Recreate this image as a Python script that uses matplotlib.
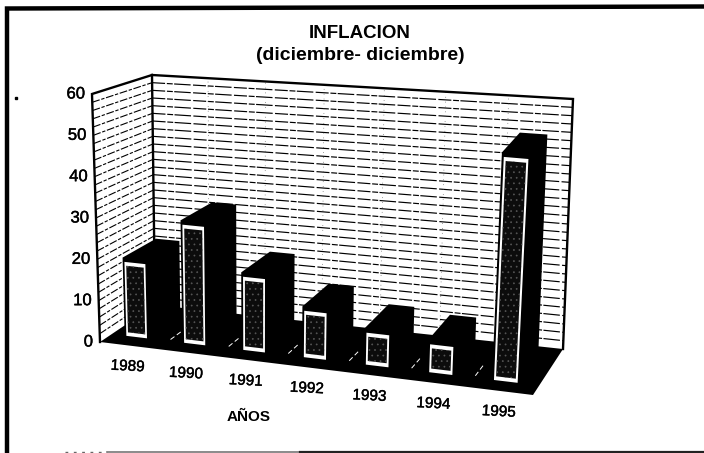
import numpy as np
import matplotlib
matplotlib.use('Agg')
import matplotlib.pyplot as plt
import matplotlib.patheffects as pe
from matplotlib.patches import Polygon

years = ['1989', '1990', '1991', '1992', '1993', '1994', '1995']
inflacion = [20, 30.5, 19.5, 13, 9.5, 8.5, 53.5]
z_ticks = [0, 10, 20, 30, 40, 50, 60]
grid_values = np.arange(0, 60, 2)

# corners of the 3d box in image pixels: (x, depth, z)
FRONT_BOT = np.array([[100, 342], [533, 395]], float)
BACK_BOT = np.array([[155, 305], [563, 349]], float)
FRONT_TOP = np.array([[92, 94], [547, 132]], float)
BACK_TOP = np.array([[152, 75], [573, 99]], float)
ZMAX = 60.0
NCAT = len(years)


def proj(x, d, z):
    # trilinear mapping from chart coords to pixels, u bent a bit for the perspective
    u = x / NCAT
    u = u * (0.92 + 0.08 * u)
    v = z / ZMAX
    fb = FRONT_BOT[0] * (1 - u) + FRONT_BOT[1] * u
    bb = BACK_BOT[0] * (1 - u) + BACK_BOT[1] * u
    ft = FRONT_TOP[0] * (1 - u) + FRONT_TOP[1] * u
    bt = BACK_TOP[0] * (1 - u) + BACK_TOP[1] * u
    bot = fb * (1 - d) + bb * d
    top = ft * (1 - d) + bt * d
    return bot * (1 - v) + top * v


def poly(ax, pts, fc, ec='none', lw=0, z=1, **kw):
    ax.add_patch(Polygon(pts, closed=True, facecolor=fc, edgecolor=ec, linewidth=lw, zorder=z, **kw))


fig = plt.figure(figsize=(7.04, 4.53), dpi=100, facecolor='white')
ax = fig.add_axes([0, 0, 1, 1])
ax.set_xlim(0, 704)
ax.set_ylim(453, 0)
ax.axis('off')
plt.rcParams['hatch.linewidth'] = 0.5
font = 'Liberation Sans'
heavy = [pe.withStroke(linewidth=0.3, foreground='black')]

# page frame
ax.plot([7, 7, 704], [453, 8.5, 6.5], color='black', lw=3.2, solid_joinstyle='miter')
ax.plot([65, 107], [452, 452], color='#666666', lw=1.0, ls=(0, (2, 4)))
ax.plot([107, 300], [452, 452], color='#777777', lw=1.2)
ax.plot([300, 704], [452, 452], color='#222222', lw=1.6)
ax.plot([15.5], [97.5], 's', color='black', ms=1.8)

# grid on the walls
dash = (0, (11, 1.5, 5, 1.2, 14, 2))
for g in grid_values[1:]:
    a, b, c = proj(0, 0, g), proj(0, 1, g), proj(NCAT, 1, g)
    ax.plot([a[0], b[0]], [a[1], b[1]], color='black', lw=0.8, ls=(0, (7, 1.5, 3, 1.5)), zorder=2)
    ax.plot([b[0], c[0]], [b[1], c[1]], color='black', lw=0.85, ls=dash, zorder=2)
for k in range(1, NCAT):
    a, b = proj(k, 1, 0), proj(k, 1, ZMAX)
    ax.plot([a[0], b[0]], [a[1], b[1]], color='#444444', lw=0.5, ls=(0, (1, 6)), zorder=2)

# floor
poly(ax, [proj(0, 0, 0), proj(NCAT, 0, 0), proj(NCAT, 1, 0), proj(0, 1, 0)], 'black', z=3)
for k in range(1, NCAT):
    a, b = proj(k, 0.25, 0), proj(k, 0.5, 0)
    ax.plot([a[0], b[0]], [a[1], b[1]], color='white', lw=0.7, ls=(0, (5, 3)), zorder=3.5)

# wall outlines
for pts in [[proj(0, 0, 0), proj(0, 0, ZMAX), proj(0, 1, ZMAX)],
            [proj(0, 1, 0), proj(0, 1, ZMAX), proj(NCAT, 1, ZMAX), proj(NCAT, 1, 0)]]:
    xs, ys = zip(*pts)
    ax.plot(xs, ys, color='black', lw=1.7, zorder=4, solid_joinstyle='miter')

# bars
WIDTH = 0.42
D0, D1 = 0.12, 0.72
for i, val in enumerate(inflacion):
    x0 = i + 0.53 - WIDTH / 2
    x1 = i + 0.53 + WIDTH / 2
    hull = [proj(x0, D0, 0), proj(x0, D0, val), proj(x0, D1, val), proj(x1, D1, val),
            proj(x1, D1, 0), proj(x1, D0, 0)]
    poly(ax, hull, 'black', z=5 + i * 0.1)
    # white frame on front face, dark stippled core inside it
    m = 0.03
    zm = min(1.0, val * 0.2)
    white = [proj(x0 + m, D0, zm), proj(x0 + m, D0, val - zm),
             proj(x1 - m, D0, val - zm), proj(x1 - m, D0, zm)]
    poly(ax, white, 'white', z=5.05 + i * 0.1)
    m2 = 0.06
    zm2 = min(1.9, val * 0.28)
    core = [proj(x0 + m2, D0, zm2), proj(x0 + m2, D0, val - zm2),
            proj(x1 - m2, D0, val - zm2), proj(x1 - m2, D0, zm2)]
    poly(ax, core, '#0c0c0c', ec='#555555', z=5.07 + i * 0.1, hatch='...')

# text
ax.text(360, 33, 'INFLACION', ha='center', va='center', fontsize=13.5, fontweight='bold', family=font)
ax.text(360, 56, '(diciembre- diciembre)', ha='center', va='center', fontsize=14, fontweight='bold', family=font)
for t in z_ticks:
    p = proj(0, 0, t)
    ax.text(p[0] - 7, p[1], str(t), ha='right', va='center', fontsize=12, family=font, path_effects=heavy)
for i, y in enumerate(years):
    p = proj(i + 0.5, 0, 0)
    ax.text(p[0] - 1, p[1] + 21, y, ha='center', va='center', fontsize=11, rotation=-3, family=font,
            path_effects=heavy)
ax.text(249, 417, 'AÑOS', ha='center', va='center', fontsize=11, fontweight='bold', family=font)

fig.savefig('out.png', dpi=100, facecolor='white')
